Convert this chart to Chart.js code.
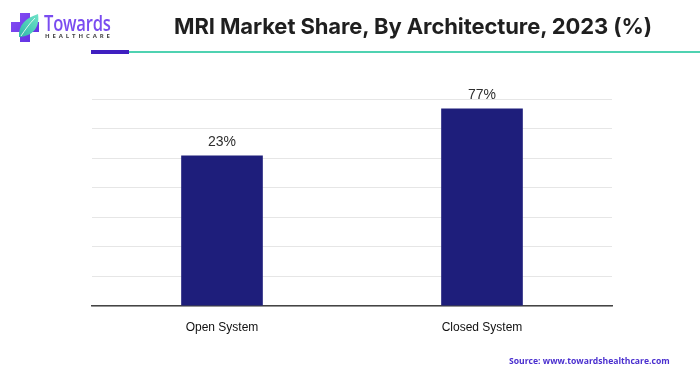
<!DOCTYPE html>
<html>
<head>
<meta charset="utf-8">
<script src="https://cdn.jsdelivr.net/npm/chart.js@4.4.1/dist/chart.umd.min.js"></script>
<style>
  html, body { margin: 0; padding: 0; background: #fff; }
  #wrap { position: relative; width: 700px; height: 376px; overflow: hidden; font-family: "Liberation Sans", Arial, sans-serif; }
  #chart { position: absolute; left: 0; top: 0; }
  .title { position: absolute; left: 174px; top: 13px; white-space: nowrap; font-family: Inter, Roboto, sans-serif; font-weight: 700; font-size: 22px; color: #1f1f1f; letter-spacing: -0.1px; }
  .rule-teal { position: absolute; left: 129px; top: 51px; width: 571px; height: 2px; background: #4fd2b1; }
  .rule-purple { position: absolute; left: 91px; top: 50px; width: 38px; height: 4px; background: #3f1fc0; }
  .brand { position: absolute; left: 44px; top: 9px; font-family: "Open Sans", sans-serif; font-weight: 600; font-size: 21px; color: #7a4cf0; letter-spacing: -0.3px; transform: scaleX(0.79); transform-origin: left top; white-space: nowrap; }
  .brand-sub { position: absolute; left: 45px; top: 32px; font-family: "Open Sans", sans-serif; font-weight: 700; font-size: 6px; color: #444; letter-spacing: 2.9px; white-space: nowrap; }
  .source { position: absolute; left: 509px; top: 355px; white-space: nowrap; font-family: "Open Sans", sans-serif; font-weight: 700; font-size: 8.6px; color: #4a2fcf; }
</style>
</head>
<body>
<div id="wrap">
  <canvas id="chart" width="700" height="376"></canvas>
  <svg style="position:absolute;left:10px;top:12px" width="32" height="32" viewBox="0 0 32 32">
    <defs>
      <linearGradient id="cg" x1="0" y1="0" x2="1" y2="1">
        <stop offset="0" stop-color="#8a4ff5"/>
        <stop offset="1" stop-color="#5a2ee0"/>
      </linearGradient>
      <linearGradient id="lg" x1="0" y1="1" x2="1" y2="0">
        <stop offset="0" stop-color="#2fb9a8"/>
        <stop offset="1" stop-color="#6fe3c8"/>
      </linearGradient>
    </defs>
    <path d="M10 1 H20 V10 H29 V20 H20 V30 H10 V20 H1 V10 H10 Z" fill="url(#cg)"/>
    <path d="M9 25 C8 13 16 6 28 2 C30 14 24 24 9 25 Z" fill="url(#lg)"/>
    <path d="M11 24 C15 18 19 12 25 6" stroke="#ffffff" stroke-width="1" fill="none" opacity="0.8"/>
  </svg>
  <div class="brand">Towards</div>
  <div class="brand-sub">HEALTHCARE</div>
  <div class="title">MRI Market Share, By Architecture, 2023 (%)</div>
  <div class="rule-purple"></div>
  <div class="rule-teal"></div>
  <div class="source">Source: www.towardshealthcare.com</div>
</div>
<script>
const categories = ["Open System", "Closed System"];
const shareValues = [23, 77];
const valueLabels = ["23%", "77%"];
// value axis as drawn in the source image (bars rise from the axis floor)
const axisFloor = -150;
const axisCeiling = 88;
const gridLineCount = 8;

const labelPlugin = {
  id: 'valueLabels',
  afterDatasetsDraw(chart) {
    const ctx = chart.ctx;
    const meta = chart.getDatasetMeta(0);
    ctx.save();
    ctx.font = '14px "Liberation Sans", Arial, sans-serif';
    ctx.fillStyle = '#2e2e2e';
    ctx.textAlign = 'center';
    ctx.textBaseline = 'bottom';
    meta.data.forEach((bar, i) => {
      ctx.fillText(valueLabels[i], bar.x, bar.y - 6);
    });
    ctx.restore();
  }
};

new Chart(document.getElementById('chart'), {
  type: 'bar',
  data: {
    labels: categories,
    datasets: [{
      data: shareValues,
      base: axisFloor,
      backgroundColor: '#1e1e7b',
      borderWidth: 0,
      barPercentage: 0.314,
      categoryPercentage: 1.0
    }]
  },
  options: {
    responsive: false,
    animation: false,
    devicePixelRatio: 1,
    layout: { padding: { top: 99, right: 88, left: 0, bottom: 0 } },
    plugins: { legend: { display: false }, tooltip: { enabled: false } },
    scales: {
      x: {
        grid: { display: false },
        border: { display: true, color: '#444444', width: 1.5 },
        ticks: { color: '#111111', font: { family: '"Liberation Sans", Arial, sans-serif', size: 12 }, padding: 6 },
        afterFit(scale) { scale.height = 70; }
      },
      y: {
        min: axisFloor,
        max: axisCeiling,
        ticks: { display: false, count: gridLineCount },
        grid: { color: '#e6e6e6', lineWidth: 1, drawTicks: false },
        border: { display: false },
        afterFit(scale) { scale.width = 92; }
      }
    }
  },
  plugins: [labelPlugin]
});
</script>
</body>
</html>
